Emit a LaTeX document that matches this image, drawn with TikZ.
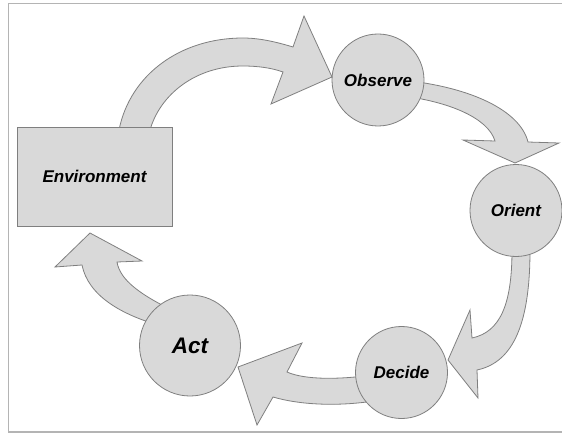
\documentclass[tikz,border=0pt]{standalone}
\usepackage{fontspec}
\setmainfont{Liberation Sans}
\usetikzlibrary{backgrounds}
\definecolor{shapefill}{HTML}{D9D9D9}
\definecolor{shapeline}{HTML}{7F7F7F}
\definecolor{framegray}{HTML}{B4B4B4}

\begin{document}
\begin{tikzpicture}[x=1pt,y=-1pt,
  blockarrow/.style={fill=shapefill, draw=shapeline, line width=0.8pt, line join=miter},
  labelfont/.style={font=\fontsize{17}{20}\selectfont\bfseries\itshape},
  stage/.style={circle, fill=shapefill, draw=shapeline, line width=0.8pt,
    inner sep=0pt, minimum size=92pt, labelfont},
  envbox/.style={rectangle, fill=shapefill, draw=shapeline, line width=0.8pt,
    minimum width=155pt, minimum height=99pt, inner sep=0pt, labelfont}]
\useasboundingbox (0,0) rectangle (562,433);

% frame
\draw[framegray, line width=1.5pt] (562,3.3) -- (8.3,3.3) -- (8.3,432) -- (562,432);

% stages of the loop
\node[envbox] (env) at (94.5,176.5) {Environment};
\node[stage] (obs) at (378,80) {Observe};
\node[stage] (ori) at (516,210.5) {Orient};
\node[stage] (dec) at (401.5,372.5) {Decide};
\node[stage, minimum size=101pt, font=\fontsize{22.5}{26}\selectfont\bfseries\itshape] (act) at (190,345.5) {Act};

% curved block arrows, drawn behind the stages
\begin{scope}[on background layer]
  % Environment -> Observe
  \draw[blockarrow] (env.center) -- (150,130)
    .. controls (160,95) and (195,66) .. (243,66)
    .. controls (258,66) and (272,68) .. (283,72)
    -- (271,104) -- (332,77) -- (304,16) -- (293,47)
    .. controls (270,40) and (255,38) .. (243,38)
    .. controls (180,38) and (130,75) .. (119,130) -- cycle;
  % Observe -> Orient
  \draw[blockarrow] (obs.center) -- (410,97)
    .. controls (450,103) and (488,118) .. (495,141)
    -- (463,140) -- (515,163) -- (559,143) -- (528,142)
    .. controls (520,110) and (470,88) .. (410,81) -- cycle;
  % Orient -> Decide
  \draw[blockarrow] (ori.center) -- (512,250)
    .. controls (512,305) and (500,332) .. (472,338)
    -- (470,310) -- (448,360) -- (478,398) -- (477,370)
    .. controls (515,362) and (530,320) .. (530,250) -- cycle;
  % Decide -> Act
  \draw[blockarrow] (dec.center) -- (380,374)
    .. controls (340,380) and (305,380) .. (287,372)
    -- (302,343) -- (238,367) -- (257,425) -- (273,397)
    .. controls (300,405) and (340,407) .. (380,400) -- cycle;
  % Act -> Environment
  \draw[blockarrow] (act.center) -- (178,313)
    .. controls (140,295) and (120,280) .. (117,262)
    -- (142,261) -- (90,233) -- (55,267) -- (82,265)
    .. controls (88,295) and (120,315) .. (165,327) -- cycle;
\end{scope}
\end{tikzpicture}
\end{document}
